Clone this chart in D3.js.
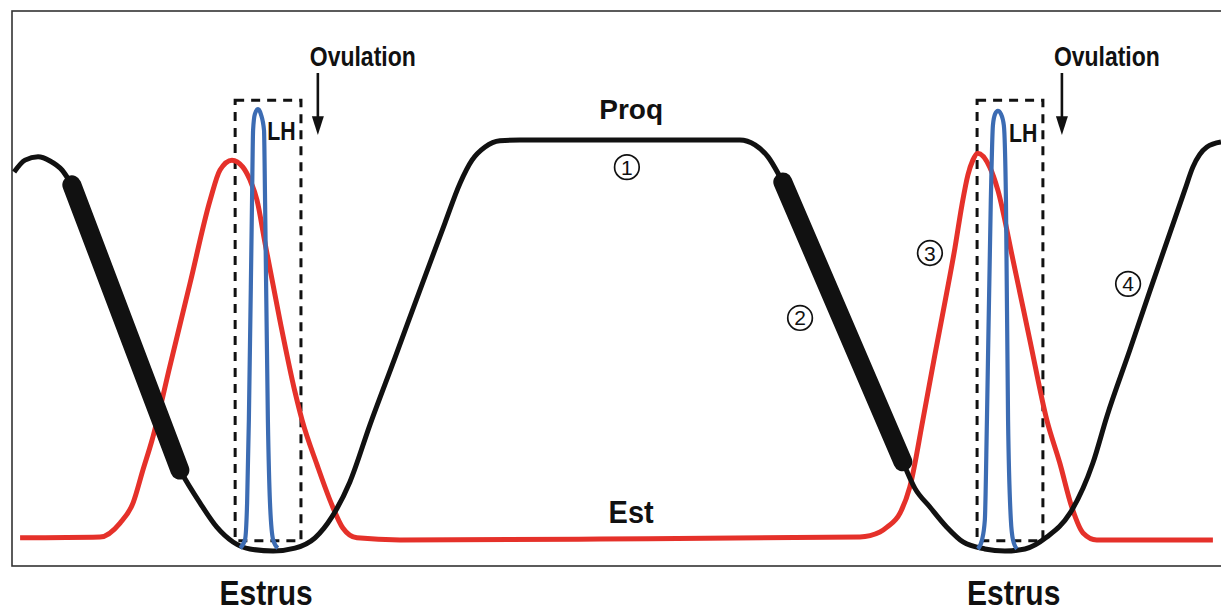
<!DOCTYPE html>
<html><head><meta charset="utf-8">
<script src="https://cdn.jsdelivr.net/npm/d3@7"></script>
<style>
html,body{margin:0;padding:0;background:#fff;}
svg{display:block;}
text{font-family:"Liberation Sans",Arial,sans-serif;fill:#111;}
</style></head>
<body>
<svg id="chart" width="1221" height="611"></svg>
<script>
// ---- Data (x in days of cycle, estrus = day 0 and day 21; y in relative hormone level 0-100) ----
const progDays   = [-7.27,-6.96,-6.59,-6.25,-5.91,-5.63,-2.56,-1.99,-1.51,-1.05,-0.57,0.09,0.71,1.28,1.76,2.27,2.84,3.55,4.26,4.97,5.40,5.74,6.11,6.53,7.10,13.35,13.78,14.15,14.57,17.98,18.32,18.75,19.23,19.69,20.31,20.88,21.45,22.07,22.73,23.38,23.78,24.43,25.00,25.57,25.99,26.22,26.62,27.02];
const progLevels = [92.2,95.1,95.9,94.9,92.7,89.1,19.7,11.7,5.8,2.2,0.5,0,0.7,3.2,8.3,16.8,30.7,47.0,63.5,79.8,89.5,95.1,98.3,99.8,100,100,98.8,95.9,89.8,21.7,15.3,10.7,5.8,2.2,0.5,0,0.5,3.4,9.2,21.4,32.8,48.9,63.3,77.4,87.8,93.4,98.3,99.5];
// luteolysis (thick segments on the progesterone curve)
const luteolysis = [[-5.63,-2.56],[14.57,17.98]];

const estDays   = [-7.10,-4.83,-4.26,-3.89,-3.61,-3.35,-2.84,-2.27,-1.70,-1.42,-1.08,-0.77,-0.57,-0.37,-0.14,0.28,0.71,0.91,1.34,1.76,2.07,2.47,3.69,9.38,16.76,17.33,17.53,17.90,18.18,18.55,18.89,19.20,19.46,19.66,19.83,19.97,20.11,20.45,20.68,21.11,21.59,22.07,22.44,22.78,23.10,23.49,26.79];
const estLevels = [3.2,3.4,6.8,11.7,19.7,27.0,45.1,65.2,85.4,92.7,95.1,93.4,90.3,85.4,74.9,56.2,38.7,31.9,20.9,11.2,5.6,3.2,2.7,2.9,3.4,4.6,5.8,9.2,15.6,31.9,47.7,61.6,73.7,84.2,91.5,95.1,96.8,93.4,87.8,70.8,51.3,31.9,21.4,10.7,4.4,2.7,2.7];

const lhDays1   = [-0.85,-0.71,-0.65,-0.60,-0.51,-0.48,-0.43,-0.34,-0.26,-0.17,-0.14,-0.06,0.00,0.09,0.22];
const lhLevels1 = [0.7,2.7,11.7,31.9,85.4,102.4,106.3,107.5,106.3,102.4,85.4,31.9,11.7,2.7,0.7];
const lhDays2   = [20.11,20.23,20.31,20.37,20.48,20.54,20.60,20.68,20.77,20.85,20.91,20.97,21.05,21.11,21.22];
const lhLevels2 = [0.5,2.7,7.5,31.9,85.4,103.6,106.3,107.1,106.3,103.6,85.4,31.9,7.5,2.7,0.5];

const lhWindowStart = [-0.99, 20.09];
const lhWindowEnd   = [0.88, 21.96];
const ovulationDays = [1.36, 22.50];
const estrusDays    = [-0.11, 21.13];
const circledLabels = ["1","2","3","4"];
const circledDays   = [10.14, 15.06, 18.75, 24.38];
const circledLevels = [93.4, 56.7, 72.5, 65.0];

// ---- Scales ----
const svg = d3.select("#chart");
const x = d3.scaleLinear().domain([-7.33, 27.02]).range([12, 1221]);
const y = d3.scaleLinear().domain([0, 100]).range([551, 140]);
const line = d3.line().x(d => x(d[0])).y(d => y(d[1])).curve(d3.curveMonotoneX);
const zip = (a, b) => a.map((v, i) => [v, b[i]]);

// frame
svg.append("rect").attr("x", 12).attr("y", 11).attr("width", 1220).attr("height", 555)
  .attr("fill", "none").attr("stroke", "#333").attr("stroke-width", 1.6);

// LH windows (dashed boxes)
lhWindowStart.forEach((s, i) => {
  svg.append("rect")
    .attr("x", x(s)).attr("y", y(109.7))
    .attr("width", x(lhWindowEnd[i]) - x(s)).attr("height", y(2.5) - y(109.7))
    .attr("fill", "none").attr("stroke", "#111").attr("stroke-width", 3)
    .attr("stroke-dasharray", "9,7");
});

// Estradiol (red)
svg.append("path").attr("d", line(zip(estDays, estLevels)))
  .attr("fill", "none").attr("stroke", "#e5312a").attr("stroke-width", 5);

// Progesterone (black)
const prog = zip(progDays, progLevels);
svg.append("path").attr("d", line(prog))
  .attr("fill", "none").attr("stroke", "#111").attr("stroke-width", 5);
luteolysis.forEach(([a, b]) => {
  const seg = prog.filter(p => p[0] >= a && p[0] <= b);
  svg.append("path").attr("d", d3.line().x(d => x(d[0])).y(d => y(d[1]))(seg))
    .attr("fill", "none").attr("stroke", "#111").attr("stroke-width", 19)
    .attr("stroke-linecap", "round");
});

// LH (blue)
[[lhDays1, lhLevels1], [lhDays2, lhLevels2]].forEach(([d, l]) => {
  svg.append("path").attr("d", line(zip(d, l)))
    .attr("fill", "none").attr("stroke", "#3c6cb3").attr("stroke-width", 4.2);
});

// LH labels
lhWindowStart.forEach((s, i) => {
  svg.append("text")
    .attr("transform", `translate(${x(s) + 32},${y(i === 0 ? 105.1 : 104.6) + 21}) scale(0.82,1)`)
    .attr("font-size", 26).attr("font-weight", "bold").text("LH");
});

// Ovulation arrows and text
ovulationDays.forEach(d => {
  const ax = x(d);
  svg.append("line").attr("x1", ax).attr("x2", ax).attr("y1", y(116.3)).attr("y2", y(103.5))
    .attr("stroke", "#111").attr("stroke-width", 2.6);
  svg.append("path")
    .attr("d", `M${ax - 6},${y(105.8)} L${ax + 6},${y(105.8)} L${ax},${y(101.2)} Z`)
    .attr("fill", "#111");
  svg.append("text")
    .attr("transform", `translate(${ax - 8},${y(116.3) - 7}) scale(0.82,1)`)
    .attr("font-size", 28).attr("font-weight", "bold").text("Ovulation");
});

// Proq / Est labels
svg.append("text").attr("x", x(10.26)).attr("y", y(105.1))
  .attr("text-anchor", "middle").attr("font-size", 28).attr("font-weight", "bold").text("Proq");
svg.append("text")
  .attr("transform", `translate(${x(10.26)},${y(6.8)}) scale(1,1.1)`)
  .attr("text-anchor", "middle").attr("font-size", 29).attr("font-weight", "bold").text("Est");

// Estrus labels
estrusDays.forEach(d => {
  svg.append("text")
    .attr("transform", `translate(${x(d)},605) scale(1,1.15)`)
    .attr("text-anchor", "middle").attr("font-size", 30).attr("font-weight", "bold").text("Estrus");
});

// Circled numbers
circledLabels.forEach((t, i) => {
  const cx = x(circledDays[i]), cy = y(circledLevels[i]);
  svg.append("circle").attr("cx", cx).attr("cy", cy).attr("r", 12.3)
    .attr("fill", "none").attr("stroke", "#111").attr("stroke-width", 1.7);
  svg.append("text").attr("x", cx).attr("y", cy + 7.5).attr("text-anchor", "middle")
    .attr("font-size", 21).text(t);
});
</script>
</body></html>
